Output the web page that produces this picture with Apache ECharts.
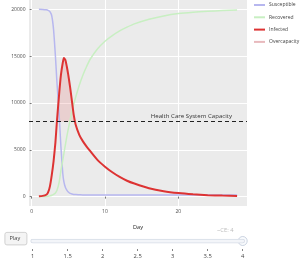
<!DOCTYPE html>
<html>
<head>
<meta charset="utf-8">
<script src="https://cdn.jsdelivr.net/npm/echarts@6/dist/echarts.min.js"></script>
<style>
html,body{margin:0;padding:0;background:#fff;}
#chart{width:300px;height:265px;}
</style>
</head>
<body>
<div id="chart"></div>
<script>
// ---- data ----
const days        = [1, 1.5, 2, 2.25, 2.5, 2.75, 3, 3.25, 3.45, 3.75, 4, 4.25, 4.4, 4.6, 4.8, 5, 5.25, 5.5, 5.75, 6, 6.5, 7, 7.5, 8, 9, 10, 11, 12, 13, 14, 16, 18, 20, 22, 24, 26, 28];
const susceptible = [20000, 19990, 19950, 19900, 19750, 19300, 17800, 15000, 12300, 8800, 5300, 2500, 1600, 1000, 700, 500, 350, 280, 240, 220, 200, 180, 180, 180, 180, 180, 180, 180, 180, 180, 180, 180, 180, 180, 180, 180, 180];
const recovered   = [0, 5, 20, 40, 80, 150, 250, 400, 650, 1500, 2800, 3900, 4600, 5500, 6400, 7200, 8200, 9100, 9900, 10600, 11900, 13000, 13900, 14700, 15800, 16600, 17200, 17700, 18100, 18450, 18950, 19300, 19550, 19700, 19800, 19870, 19920];
const infected    = [40, 80, 200, 450, 1100, 2300, 3800, 5800, 8000, 10900, 13000, 14300, 14800, 14600, 13900, 13000, 11700, 10200, 8700, 7700, 6600, 5900, 5350, 4850, 3900, 3200, 2600, 2100, 1700, 1400, 900, 580, 380, 250, 160, 110, 70];
const capacity    = 8000;
const capacityLabel = 'Health Care System Capacity';
const xTicks = [0, 10, 20];
const yTicks = [0, 5000, 10000, 15000, 20000];
const sliderSteps = [1, 1.5, 2, 2.5, 3, 3.5, 4];
const sliderValue = 4;
const sliderPrefix = '~CE: ';

const pair = (ys) => days.map((d, i) => [d, ys[i]]);
const overData = days.map((d, i) => [d, Math.max(infected[i], capacity)]);

const FONT = '"Open Sans", sans-serif';
const chart = echarts.init(document.getElementById('chart'), null, {renderer: 'canvas'});

const option = {
  animation: false,
  textStyle: {fontFamily: FONT},
  grid: [
    {left: 29, top: 0, right: 53, height: 206, show: true, backgroundColor: '#ebebeb', borderWidth: 0, containLabel: false, outerBoundsMode: 'none'},
    {left: 32.7, right: 57.3, top: 241, height: 8, containLabel: false, outerBoundsMode: 'none'}
  ],
  legend: {
    orient: 'vertical', left: 254, top: 2.5, padding: 0, itemGap: 7.3,
    itemWidth: 11, itemHeight: 2, icon: 'rect',
    textStyle: {fontSize: 5, color: '#444', fontFamily: FONT, padding: [0, 0, 0, -1], width: 40, overflow: 'none'},
    data: ['Susceptible', 'Recovered', 'Infected', 'Overcapacity']
  },
  xAxis: [
    {
      gridIndex: 0, type: 'value', min: -0.35, max: 29.35,
      name: 'Day', nameLocation: 'middle', nameGap: 18,
      nameTextStyle: {fontSize: 5.6, color: '#222', fontFamily: FONT},
      axisLine: {show: false},
      axisTick: {show: true, length: 2, lineStyle: {color: '#555', width: 0.8}, customValues: xTicks},
      axisLabel: {fontSize: 5, color: '#4d4d4d', margin: 3.5, customValues: xTicks, formatter: (v) => String(v)},
      splitLine: {show: true, lineStyle: {color: '#ffffff', width: 1}}
    },
    {
      gridIndex: 1, type: 'value', min: 1, max: 4, interval: 0.5,
      axisLine: {show: false},
      axisTick: {show: true, length: 2, lineStyle: {color: '#666', width: 0.8}},
      axisLabel: {fontSize: 5.8, color: '#444', margin: 4, formatter: (v) => String(v)},
      splitLine: {show: false}
    }
  ],
  yAxis: [
    {
      gridIndex: 0, type: 'value', min: -1000, max: 21000,
      name: '# Individuals', nameLocation: 'middle', nameGap: 19, nameRotate: 90,
      nameTextStyle: {fontSize: 5.8, color: '#222', fontFamily: FONT},
      axisLine: {show: false},
      axisTick: {show: true, length: 2, lineStyle: {color: '#555', width: 0.8}, customValues: yTicks},
      axisLabel: {fontSize: 5, color: '#4d4d4d', margin: 3.5, customValues: yTicks, formatter: (v) => String(v)},
      splitLine: {show: true, lineStyle: {color: '#ffffff', width: 1}}
    },
    {gridIndex: 1, type: 'value', min: 0, max: 1, show: false}
  ],
  series: [
    {
      name: 'Susceptible', type: 'line', data: pair(susceptible), showSymbol: false, smooth: 0.2,
      color: '#b7b7ef', lineStyle: {width: 1.5, color: '#b7b7ef'}
    },
    {
      name: 'Recovered', type: 'line', data: pair(recovered), showSymbol: false, smooth: 0.2,
      color: '#c8efc2', lineStyle: {width: 1.5, color: '#c8efc2'}
    },
    {
      name: 'Overcapacity', type: 'line', data: overData, showSymbol: false, smooth: 0.2,
      color: '#e8b9bd', lineStyle: {width: 0},
      areaStyle: {origin: capacity, color: 'rgba(220,60,60,0.22)'}
    },
    {
      name: 'Infected', type: 'line', data: pair(infected), showSymbol: false, smooth: 0.2,
      color: '#dd3333', lineStyle: {width: 2, color: '#dd3333'},
      markLine: {
        silent: true, symbol: 'none',
        lineStyle: {color: '#222', type: [4, 3], width: 1.2},
        label: {show: false},
        data: [{yAxis: capacity}]
      },
      markPoint: {
        silent: true, symbol: 'circle', symbolSize: 0,
        label: {show: true, position: 'left', distance: 0, offset: [0, -5.5],
          formatter: capacityLabel, fontSize: 6.1, color: '#333', fontFamily: FONT},
        data: [{coord: [27.3, capacity]}]
      }
    },
    {
      name: 'sliderRail', type: 'line', xAxisIndex: 1, yAxisIndex: 1,
      data: [[sliderSteps[0], 1], [sliderSteps[sliderSteps.length - 1], 1]],
      showSymbol: false, silent: true,
      lineStyle: {width: 4.5, color: '#d6dce6', cap: 'round'}
    },
    {
      name: 'sliderRailInner', type: 'line', xAxisIndex: 1, yAxisIndex: 1,
      data: [[sliderSteps[0], 1], [sliderSteps[sliderSteps.length - 1], 1]],
      showSymbol: false, silent: true,
      lineStyle: {width: 2.8, color: '#f3f5f9', cap: 'round'}
    },
    {
      name: 'sliderGrip', type: 'scatter', xAxisIndex: 1, yAxisIndex: 1,
      data: [[sliderValue, 1]], symbol: 'circle', symbolSize: 9, silent: true,
      itemStyle: {color: '#f8fafc', borderColor: '#bec8d9', borderWidth: 1}
    }
  ],
  graphic: [
    {
      type: 'rect', left: 4.5, top: 232, shape: {width: 22, height: 12.5, r: 2},
      style: {fill: '#f4f4f4', stroke: '#c8c8c8', lineWidth: 0.8}
    },
    {
      type: 'text', left: 9.5, top: 235, style: {text: 'Play', fill: '#444', font: '5.6px "Open Sans"'}
    },
    {
      type: 'text', left: 217, top: 227.5,
      style: {text: sliderPrefix + sliderValue, fill: '#bbbbbb', font: '5.8px "Open Sans"'}
    }
  ]
};
chart.setOption(option);
</script>
</body>
</html>
